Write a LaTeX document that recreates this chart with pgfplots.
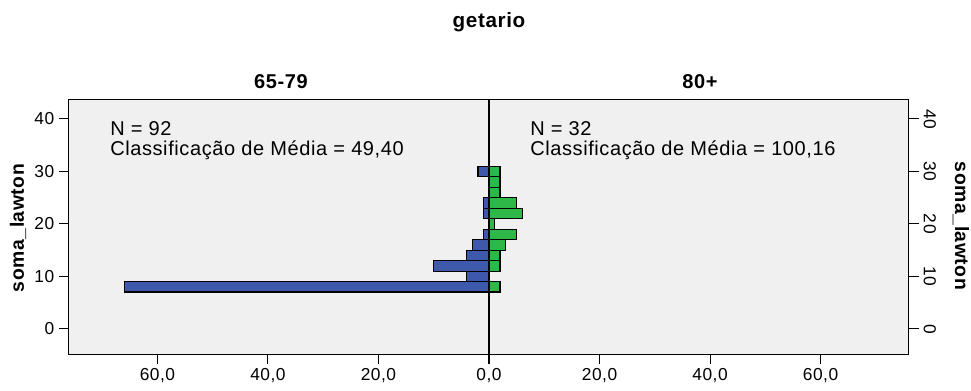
\documentclass[border=0pt]{standalone}
\usepackage{fontspec}
\setmainfont{Liberation Sans}[LetterSpace=3]
\usepackage{pgfplots}
\pgfplotsset{compat=1.18}
\definecolor{spssblue}{RGB}{62,88,172}
\definecolor{spssgreen}{RGB}{46,184,72}
\definecolor{bggray}{RGB}{240,240,240}
\pgfplotsset{
  common/.style={
    scale only axis, width=315pt, height=191.25pt,
    xbar, bar width=2,
    xmin=0, xmax=76, ymin=-4.8, ymax=43.8,
    ytick={0,10,20,30,40},
    tick align=outside, major tick length=7.5pt,
    axis background/.style={fill=bggray},
    axis on top,
    axis line style={black, line width=0.75pt},
    every tick/.style={black, line width=0.75pt},
    tick label style={font=\fontsize{13}{15}\selectfont},
    /pgf/number format/assume math mode=true,
    xticklabel style={/pgf/number format/fixed, /pgf/number format/fixed zerofill, /pgf/number format/precision=1, /pgf/number format/use comma},
  }
}
\begin{document}
\begin{tikzpicture}
\useasboundingbox (0,0) rectangle (728.25pt,-292.5pt);
\begin{axis}[common, at={(51.75pt,-265.5pt)}, anchor=south west,
  x dir=reverse, xtick={0,20,40,60}, xtick pos=lower, ytick pos=lower]
\addplot[fill=spssblue, draw=black, line width=0.9pt] coordinates {
(2,30) (1,24) (1,22) (1,18) (3,16) (4,14) (10,12) (4,10) (66,8)};
\end{axis}
\begin{axis}[common, at={(366.75pt,-265.5pt)}, anchor=south west,
  xtick={20,40,60}, extra x ticks={0}, extra x tick labels={},
  xtick pos=lower, ytick pos=upper,
  yticklabel style={rotate=-90, anchor=south}]
\addplot[fill=spssgreen, draw=black, line width=0.9pt] coordinates {
(2,30) (2,28) (2,26) (5,24) (6,22) (1,20) (5,18) (3,16) (2,14) (2,12) (2,8)};
\end{axis}
\node[font=\fontsize{15.5}{17}\selectfont\bfseries] at (366.75pt,-16.5pt) {getario};
\node[font=\fontsize{15}{17}\selectfont\bfseries] at (210.75pt,-61.5pt) {65-79};
\node[font=\fontsize{15}{17}\selectfont\bfseries] at (525pt,-61.5pt) {80+};
\node[font=\fontsize{14.5}{16}\selectfont\bfseries, rotate=90] at (13.5pt,-171pt) {soma\_lawton};
\node[font=\fontsize{14.5}{16}\selectfont\bfseries, rotate=-90] at (720.75pt,-169.5pt) {soma\_lawton};
\node[font=\fontsize{15}{15}\selectfont, anchor=north west, align=left, inner sep=0pt] at (82.5pt,-91pt) {N = 92\\Classificação de Média = 49,40};
\node[font=\fontsize{15}{15}\selectfont, anchor=north west, align=left, inner sep=0pt] at (397.5pt,-91pt) {N = 32\\Classificação de Média = 100,16};
\end{tikzpicture}
\end{document}
